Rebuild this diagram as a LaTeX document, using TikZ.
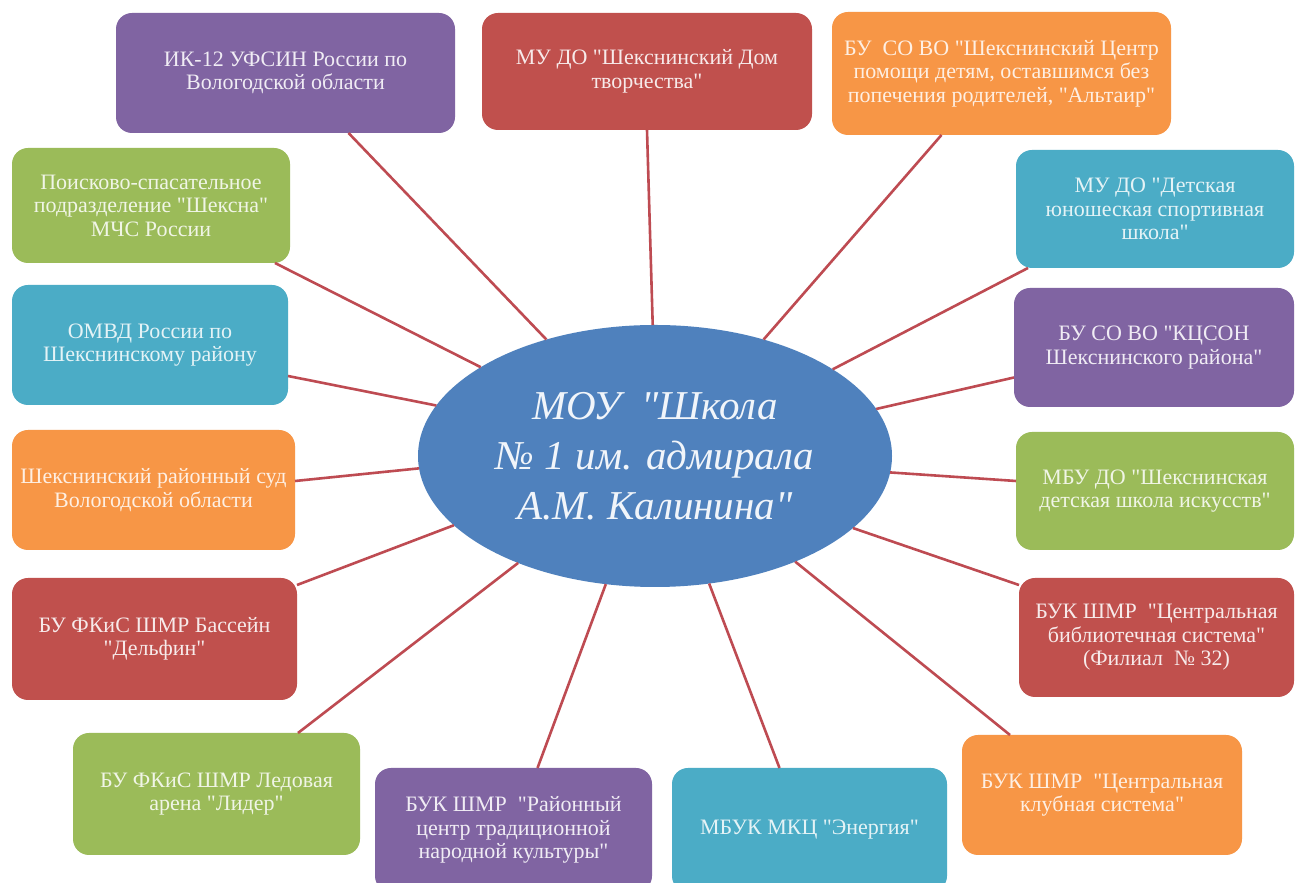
\documentclass[tikz,border=0pt]{standalone}
\usepackage{fontspec}
\newfontfamily\liberserif{Liberation Serif}
\usetikzlibrary{shapes.geometric}
\definecolor{cpur}{RGB}{128,100,162}
\definecolor{cred}{RGB}{192,80,77}
\definecolor{corg}{RGB}{247,150,70}
\definecolor{cgrn}{RGB}{155,187,89}
\definecolor{caqu}{RGB}{75,172,198}
\definecolor{cblu}{RGB}{79,129,189}
\definecolor{cline}{RGB}{190,75,82}
\begin{document}
\begin{tikzpicture}[x=1pt,y=1pt,
  box/.style={rectangle, rounded corners=16pt, inner sep=0pt, outer sep=0pt,
    align=center, font=\liberserif\fontsize{22}{23.5}\selectfont},
  pbox/.style={box, fill=cpur, text=white!88!cpur},
  rbox/.style={box, fill=cred, text=white!88!cred},
  obox/.style={box, fill=corg, text=white!85!corg},
  gbox/.style={box, fill=cgrn, text=white!85!cgrn},
  abox/.style={box, fill=caqu, text=white!85!caqu},
  link/.style={draw=cline, line width=2.6pt}
]
\useasboundingbox[fill=white] (0,0) rectangle (1296,883);

% centre
\node[ellipse, fill=cblu, inner sep=0pt, outer sep=0pt,
  minimum width=474pt, minimum height=262pt, align=center,
  text=white!92!cblu, font=\liberserif\itshape\fontsize{41}{50}\selectfont]
  (ell) at (655,427) {МОУ \ "Школа\\№ 1 им. адмирала\\А.М. Калинина"};

% boxes
\node[pbox, minimum width=339pt, minimum height=120pt] (ik) at (285.5,810)
  {ИК-12 УФСИН России по\\Вологодской области};
\node[rbox, minimum width=330pt, minimum height=117pt] (mudo) at (647,811.5)
  {МУ ДО "Шекснинский Дом\\творчества"};
\node[obox, minimum width=339pt, minimum height=123pt] (alt) at (1001.5,809.5)
  {БУ~~СО ВО "Шекснинский Центр\\помощи детям, оставшимся без\\попечения родителей, "Альтаир"};
\node[gbox, minimum width=278pt, minimum height=115pt] (poisk) at (151,677.5)
  {Поисково-спасательное\\подразделение "Шексна"\\МЧС России};
\node[abox, minimum width=278pt, minimum height=118pt] (detsk) at (1155,674)
  {МУ ДО "Детская\\юношеская спортивная\\школа"};
\node[abox, minimum width=276pt, minimum height=120pt] (omvd) at (150,538)
  {ОМВД России по\\Шекснинскому району};
\node[pbox, minimum width=280pt, minimum height=119pt] (kcson) at (1154,535.5)
  {БУ СО ВО "КЦСОН\\Шекснинского района"};
\node[obox, minimum width=283pt, minimum height=120pt] (sud) at (153.5,393)
  {Шекснинский районный суд\\Вологодской области};
\node[gbox, minimum width=278pt, minimum height=118pt] (mbudo) at (1155,392)
  {МБУ ДО "Шекснинская\\детская школа искусств"};
\node[rbox, minimum width=285pt, minimum height=122pt] (delf) at (154.5,244)
  {БУ ФКиС ШМР Бассейн\\"Дельфин"};
\node[rbox, minimum width=275pt, minimum height=119pt] (cbs) at (1156.5,245.5)
  {БУК ШМР \ "Центральная\\библиотечная система"\\(Филиал \ № 32)};
\node[gbox, minimum width=287pt, minimum height=122pt] (ledov) at (216.5,89)
  {БУ ФКиС ШМР Ледовая\\арена "Лидер"};
\node[pbox, minimum width=277pt, minimum height=124pt] (raion) at (513.5,53)
  {БУК ШМР \ "Районный\\центр традиционной\\народной культуры"};
\node[abox, minimum width=275pt, minimum height=124pt] (energ) at (809.5,53)
  {МБУК МКЦ "Энергия"};
\node[obox, minimum width=280pt, minimum height=120pt] (cks) at (1102,88)
  {БУК ШМР \ "Центральная\\клубная система"};

% connectors
\draw[link] ([xshift=63pt]ik.south) -- (ell.133.8);
\draw[link] (mudo.south) -- (ell.91);
\draw[link] ([xshift=-60pt]alt.south) -- (ell.47.7);
\draw[link] ([xshift=-15pt]poisk.south east) -- (ell.153.2);
\draw[link] ([yshift=-31pt]omvd.east) -- (ell.167.6);
\draw[link] ([yshift=9pt]sud.east) -- (ell.183.9);
\draw[link] ([yshift=-7pt]delf.north east) -- (ell.199.8);
\draw[link] ([xshift=-62pt]ledov.north east) -- (ell.218.2);
\draw[link] ([xshift=24pt]raion.north) -- (ell.249.5);
\draw[link] ([xshift=-30pt]energ.north) -- (ell.293);
\draw[link] ([xshift=48pt]cks.north west) -- (ell.323.1);
\draw[link] ([yshift=-7pt]cbs.north west) -- (ell.340.1);
\draw[link] ([yshift=10pt]mbudo.west) -- (ell.356.2);
\draw[link] ([yshift=-30pt]kcson.west) -- (ell.12);
\draw[link] ([xshift=12pt]detsk.south west) -- (ell.26);
\end{tikzpicture}
\end{document}
